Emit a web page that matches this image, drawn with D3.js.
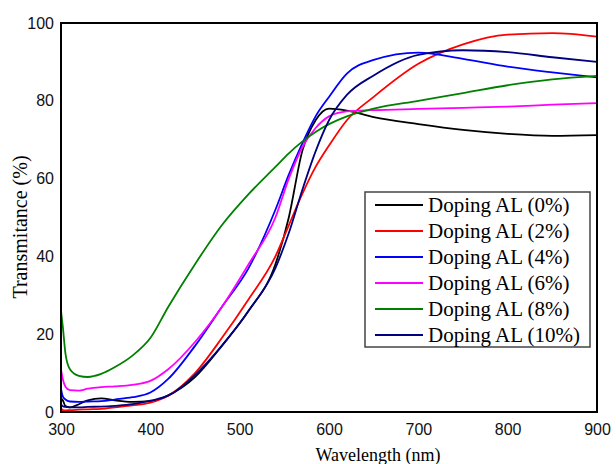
<!DOCTYPE html>
<html>
<head>
<meta charset="utf-8">
<script src="https://cdn.jsdelivr.net/npm/d3@7"></script>
<style>
  body { margin: 0; background: #fff; }
  svg { display: block; }
</style>
</head>
<body>
<div id="chart"></div>
<script>
// Transmittance spectra, values
const wavelengths = [300, 302, 305, 310, 320, 330, 345, 360, 380, 400, 420, 450, 480, 510, 540, 555, 570, 585, 600, 620, 650, 700, 750, 800, 850, 900];

const seriesNames = ['Doping AL (0%)', 'Doping AL (2%)', 'Doping AL (4%)', 'Doping AL (6%)', 'Doping AL (8%)', 'Doping AL (10%)'];
const seriesColors = ['#000000', '#ff0000', '#0000ff', '#ff00ff', '#008000', '#000080'];

const al0  = [3.5, 3.0, 1.5, 1.2, 2.0, 3.0, 3.5, 3.0, 2.6, 2.8, 4.3, 9.0, 17, 26, 38, 50, 67, 75, 78, 77.5, 75.8, 74, 72.5, 71.5, 71, 71.2];
const al2  = [1.0, 0.5, 0.4, 0.5, 0.6, 0.7, 0.8, 1.2, 1.7, 2.4, 4.2, 10, 19, 29, 40, 48, 56, 63, 68.5, 75, 81, 89.5, 94.5, 97, 97.4, 96.5];
const al4  = [6.0, 4.0, 3.2, 2.7, 2.6, 2.7, 2.8, 3.2, 3.8, 5.0, 8.5, 17, 27, 37, 52, 61, 69, 76, 81, 87, 90.5, 92.4, 90.8, 88.8, 87.3, 86];
const al6  = [11, 8.5, 6.5, 5.6, 5.5, 6.0, 6.4, 6.6, 7.0, 8.0, 11, 18, 27, 38, 50, 60, 68, 73, 76, 77.3, 77.6, 77.9, 78.2, 78.5, 79, 79.4];
const al8  = [26, 22, 15, 11, 9.3, 9.0, 9.8, 11.5, 14.5, 19, 27, 38, 48, 56, 63, 66.5, 69.5, 72, 74, 76, 78, 80, 82, 84, 85.5, 86.4];
const al10 = [2.0, 1.5, 1.3, 1.2, 1.2, 1.3, 1.4, 1.6, 2.0, 2.9, 4.2, 9.5, 17, 26, 37, 46, 57, 67, 75, 81.5, 86.5, 91.8, 93, 92.5, 91.2, 90];

const seriesValues = [al0, al2, al4, al6, al8, al10];

const xTicks = [300, 400, 500, 600, 700, 800, 900];
const yTicks = [0, 20, 40, 60, 80, 100];

const width = 616, height = 464;
const margin = { top: 23, right: 19, bottom: 52, left: 61 };
const plotW = width - margin.left - margin.right;
const plotH = height - margin.top - margin.bottom;

const svg = d3.select('#chart')
  .append('svg')
  .attr('width', width)
  .attr('height', height);

const x = d3.scaleLinear().domain([300, 900]).range([margin.left, margin.left + plotW]);
const y = d3.scaleLinear().domain([0, 100]).range([margin.top + plotH, margin.top]);

// Clip so curves stay inside the frame
svg.append('clipPath').attr('id', 'plotClip')
  .append('rect')
  .attr('x', margin.left).attr('y', margin.top)
  .attr('width', plotW).attr('height', plotH);

const line = d3.line()
  .x((d, i) => x(wavelengths[i]))
  .y(d => y(d))
  .curve(d3.curveMonotoneX);

const curves = svg.append('g').attr('clip-path', 'url(#plotClip)');
seriesValues.forEach((vals, i) => {
  curves.append('path')
    .datum(vals)
    .attr('fill', 'none')
    .attr('stroke', seriesColors[i])
    .attr('stroke-width', 1.8)
    .attr('d', line);
});

// Frame
svg.append('rect')
  .attr('x', margin.left).attr('y', margin.top)
  .attr('width', plotW).attr('height', plotH)
  .attr('fill', 'none')
  .attr('stroke', '#000')
  .attr('stroke-width', 2);

// Tick labels (no tick marks in the reference)
const xAxis = d3.axisBottom(x).tickValues(xTicks).tickSize(0).tickPadding(12);
svg.append('g')
  .attr('transform', `translate(0,${margin.top + plotH})`)
  .call(xAxis)
  .call(g => g.select('.domain').remove())
  .selectAll('text')
  .style('font-family', '"Liberation Sans", Arial, sans-serif')
  .style('font-size', '16px')
  .attr('fill', '#111');

const yAxis = d3.axisLeft(y).tickValues(yTicks).tickSize(0).tickPadding(7);
svg.append('g')
  .attr('transform', `translate(${margin.left},0)`)
  .call(yAxis)
  .call(g => g.select('.domain').remove())
  .selectAll('text')
  .style('font-family', '"Liberation Sans", Arial, sans-serif')
  .style('font-size', '16px')
  .attr('fill', '#111');

// Axis titles (x title sits low and is clipped by the edge, as in the reference)
svg.append('text')
  .attr('x', 378)
  .attr('y', 461)
  .attr('text-anchor', 'middle')
  .style('font-family', '"Liberation Serif", "Times New Roman", serif')
  .style('font-size', '18px')
  .text('Wavelength (nm)');

svg.append('text')
  .attr('transform', 'translate(27,227) rotate(-90)')
  .attr('text-anchor', 'middle')
  .style('font-family', '"Liberation Serif", "Times New Roman", serif')
  .style('font-size', '20px')
  .text('Transmitance (%)');

// Legend
const legend = svg.append('g').attr('transform', 'translate(365,192)');
legend.append('rect')
  .attr('width', 225).attr('height', 155)
  .attr('fill', '#fff')
  .attr('stroke', '#444')
  .attr('stroke-width', 1.5);

seriesNames.forEach((name, i) => {
  const row = legend.append('g').attr('transform', `translate(0,${13 + i * 26})`);
  row.append('line')
    .attr('x1', 10).attr('x2', 58)
    .attr('y1', 0).attr('y2', 0)
    .attr('stroke', seriesColors[i])
    .attr('stroke-width', 1.8);
  row.append('text')
    .attr('x', 63)
    .attr('y', 7)
    .style('font-family', '"Liberation Serif", "Times New Roman", serif')
    .style('font-size', '21px')
    .text(name);
});
</script>
</body>
</html>
